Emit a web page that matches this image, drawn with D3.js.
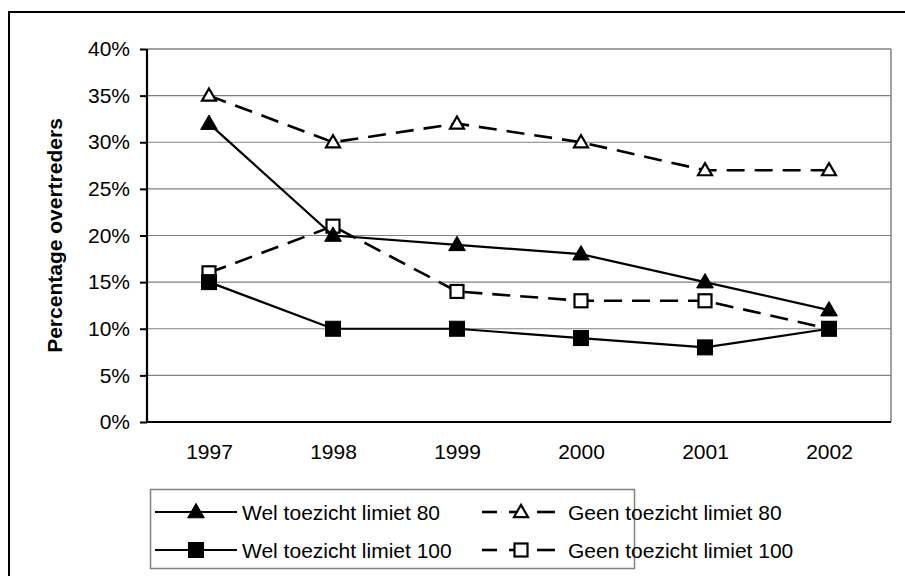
<!DOCTYPE html>
<html>
<head>
<meta charset="utf-8">
<script src="https://cdn.jsdelivr.net/npm/d3@7"></script>
<style>
  body { margin: 0; background: #fff; }
  svg { display: block; font-family: "Liberation Sans", Arial, sans-serif; }
</style>
</head>
<body>
<div id="chart"></div>
<script>
// data
var years = ["1997", "1998", "1999", "2000", "2001", "2002"];
var welToezicht80 = [0.32, 0.20, 0.19, 0.18, 0.15, 0.12];
var geenToezicht80 = [0.35, 0.30, 0.32, 0.30, 0.27, 0.27];
var welToezicht100 = [0.15, 0.10, 0.10, 0.09, 0.08, 0.10];
var geenToezicht100 = [0.16, 0.21, 0.14, 0.13, 0.13, 0.10];
var yTicks = [0, 0.05, 0.10, 0.15, 0.20, 0.25, 0.30, 0.35, 0.40];

var series = [
  { name: "Wel toezicht limiet 80", values: welToezicht80, marker: "triangle", filled: true, dashed: false },
  { name: "Geen toezicht limiet 80", values: geenToezicht80, marker: "triangle", filled: false, dashed: true },
  { name: "Wel toezicht limiet 100", values: welToezicht100, marker: "square", filled: true, dashed: false },
  { name: "Geen toezicht limiet 100", values: geenToezicht100, marker: "square", filled: false, dashed: true }
];

var W = 905, H = 576;
var plot = { left: 147, right: 891, top: 49, bottom: 422 };
var fontSize = 21;

var svg = d3.select("#chart").append("svg")
  .attr("width", W)
  .attr("height", H);

// outer chart border (runs off the right and bottom of the picture)
svg.append("rect")
  .attr("x", 9).attr("y", 12)
  .attr("width", W + 20).attr("height", H + 20)
  .attr("fill", "#fff")
  .attr("stroke", "#000")
  .attr("stroke-width", 2);

var x = d3.scalePoint()
  .domain(years)
  .range([plot.left, plot.right])
  .padding(0.5);

var y = d3.scaleLinear()
  .domain([0, 0.4])
  .range([plot.bottom, plot.top]);

// gridlines
svg.append("g")
  .selectAll("line")
  .data(yTicks.filter(function(d) { return d > 0; }))
  .enter().append("line")
  .attr("x1", plot.left)
  .attr("x2", plot.right)
  .attr("y1", function(d) { return y(d); })
  .attr("y2", function(d) { return y(d); })
  .attr("stroke", function(d) { return d === 0.4 ? "#444" : "#808080"; })
  .attr("stroke-width", 1.2);

// right edge of plot area
svg.append("line")
  .attr("x1", plot.right).attr("x2", plot.right)
  .attr("y1", plot.top).attr("y2", plot.bottom)
  .attr("stroke", "#808080")
  .attr("stroke-width", 1.5);

// y axis
var yAxis = svg.append("g")
  .attr("transform", "translate(" + plot.left + ",0)")
  .call(d3.axisLeft(y).tickValues(yTicks).tickSize(7).tickPadding(10).tickFormat(d3.format(".0%")));
yAxis.select(".domain").attr("stroke", "#000").attr("stroke-width", 2.2)
  .attr("d", "M0," + plot.top + "V" + plot.bottom);
yAxis.selectAll(".tick line").attr("stroke", "#000").attr("stroke-width", 2);
yAxis.selectAll(".tick text")
  .attr("font-size", fontSize)
  .attr("font-family", "Liberation Sans, Arial, sans-serif")
  .attr("fill", "#000");

// x axis
var xAxis = svg.append("g")
  .attr("transform", "translate(0," + plot.bottom + ")")
  .call(d3.axisBottom(x).tickSize(0).tickPadding(22));
xAxis.select(".domain").attr("stroke", "#000").attr("stroke-width", 2.2)
  .attr("d", "M" + plot.left + ",0H" + plot.right);
xAxis.selectAll(".tick text")
  .attr("font-size", fontSize)
  .attr("font-family", "Liberation Sans, Arial, sans-serif")
  .attr("fill", "#000");

// y axis title
svg.append("text")
  .attr("transform", "translate(62," + ((plot.top + plot.bottom) / 2) + ") rotate(-90)")
  .attr("text-anchor", "middle")
  .attr("font-size", 21)
  .attr("font-weight", "bold")
  .attr("fill", "#000")
  .text("Percentage overtreders");

function drawMarker(g, type, filled, cx, cy) {
  if (type === "triangle") {
    g.append("path")
      .attr("d", d3.symbol().type(d3.symbolTriangle).size(filled ? 120 : 85)())
      .attr("transform", "translate(" + cx + "," + (cy + 1) + ")")
      .attr("fill", filled ? "#000" : "#fff")
      .attr("stroke", "#000")
      .attr("stroke-width", filled ? 1 : 2.2);
  } else {
    var s = filled ? 15 : 13;
    g.append("rect")
      .attr("x", cx - s / 2).attr("y", cy - s / 2)
      .attr("width", s).attr("height", s)
      .attr("fill", filled ? "#000" : "#fff")
      .attr("stroke", "#000")
      .attr("stroke-width", filled ? 1 : 2.2);
  }
}

var line = d3.line()
  .x(function(d, i) { return x(years[i]); })
  .y(function(d) { return y(d); });

// draw dashed series first so solid ones sit on top like the original
var order = [1, 3, 0, 2];
order.forEach(function(k) {
  var s = series[k];
  var g = svg.append("g");
  g.append("path")
    .datum(s.values)
    .attr("d", line)
    .attr("fill", "none")
    .attr("stroke", "#000")
    .attr("stroke-width", s.dashed ? 2.6 : 2.2)
    .attr("stroke-dasharray", s.dashed ? "18,10" : null);
  s.values.forEach(function(v, i) {
    drawMarker(g, s.marker, s.filled, x(years[i]), y(v));
  });
});

// legend
var legend = svg.append("g");
legend.append("rect")
  .attr("x", 150.5).attr("y", 489.5)
  .attr("width", 484).attr("height", 79)
  .attr("fill", "#fff")
  .attr("stroke", "#808080")
  .attr("stroke-width", 1.5);

var legendPos = [
  { x: 155, y: 512 },
  { x: 482, y: 512 },
  { x: 155, y: 550 },
  { x: 482, y: 550 }
];

series.forEach(function(s, k) {
  var p = legendPos[k];
  var g = legend.append("g");
  if (s.dashed) {
    [[p.x, p.x + 15], [p.x + 27, p.x + 39], [p.x + 55, p.x + 73]].forEach(function(seg) {
      g.append("line")
        .attr("x1", seg[0]).attr("x2", seg[1])
        .attr("y1", p.y).attr("y2", p.y)
        .attr("stroke", "#000").attr("stroke-width", 2.6);
    });
    drawMarker(g, s.marker, false, p.x + 39, p.y);
    g.append("text")
      .attr("x", p.x + 86).attr("y", p.y + 7.5)
      .attr("font-size", fontSize)
      .attr("fill", "#000")
      .text(s.name);
  } else {
    g.append("line")
      .attr("x1", p.x).attr("x2", p.x + 82)
      .attr("y1", p.y).attr("y2", p.y)
      .attr("stroke", "#000").attr("stroke-width", 2.2);
    drawMarker(g, s.marker, true, p.x + 41, p.y);
    g.append("text")
      .attr("x", p.x + 87).attr("y", p.y + 7.5)
      .attr("font-size", fontSize)
      .attr("fill", "#000")
      .text(s.name);
  }
});
</script>
</body>
</html>
